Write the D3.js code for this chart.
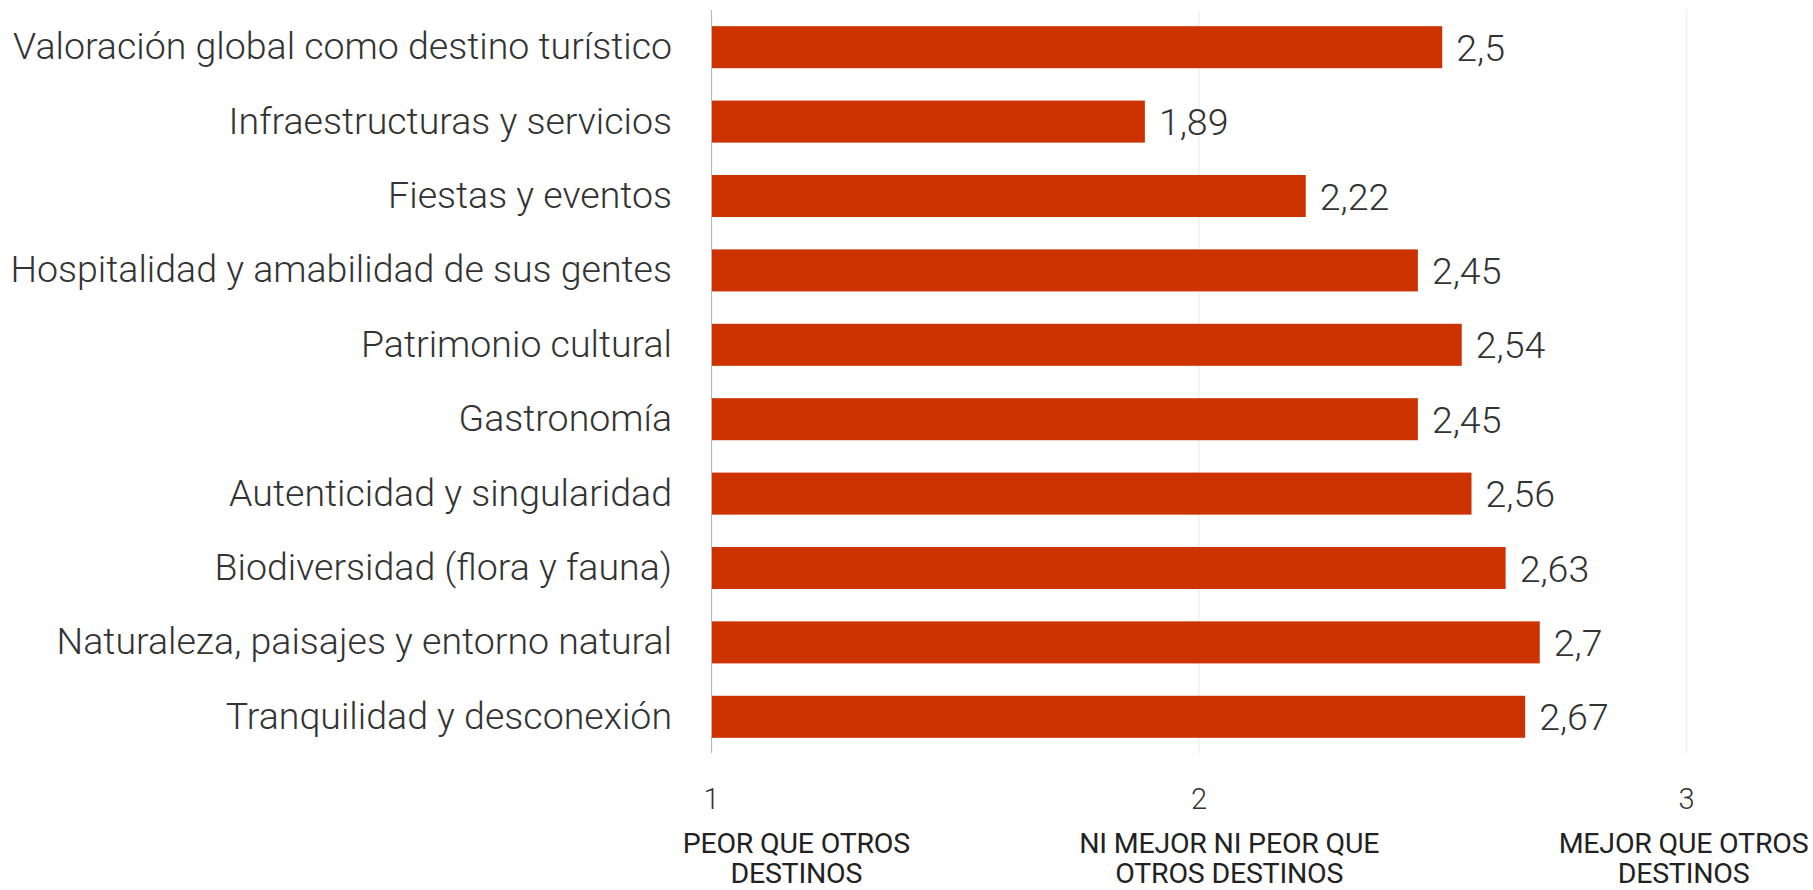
<!DOCTYPE html>
<html>
<head>
<meta charset="utf-8">
<script src="https://cdn.jsdelivr.net/npm/d3@7"></script>
<style>
  html, body { margin: 0; padding: 0; background: #fff; }
  svg { display: block; }
</style>
</head>
<body>
<svg id="chart" width="1813" height="890"></svg>
<script>
// Valoración del destino frente a otros destinos (escala 1–3)
const categories = [
  "Valoración global como destino turístico",
  "Infraestructuras y servicios",
  "Fiestas y eventos",
  "Hospitalidad y amabilidad de sus gentes",
  "Patrimonio cultural",
  "Gastronomía",
  "Autenticidad y singularidad",
  "Biodiversidad (flora y fauna)",
  "Naturaleza, paisajes y entorno natural",
  "Tranquilidad y desconexión"
];
const values = [2.5, 1.89, 2.22, 2.45, 2.54, 2.45, 2.56, 2.63, 2.7, 2.67];
const tickValues = [1, 2, 3];
const scaleLabels = [
  ["PEOR QUE OTROS", "DESTINOS"],
  ["NI MEJOR NI PEOR QUE", "OTROS DESTINOS"],
  ["MEJOR QUE OTROS", "DESTINOS"]
];
// horizontal centre of each descriptor block, in scale units
const scaleLabelCenters = [1.175, 2.063, 2.995];

const svg = d3.select("#chart");
const plot = { left: 711, right: 1686, top: 10, bottom: 754 };

const x = d3.scaleLinear().domain([1, 3]).range([plot.left, plot.right]);
const y = d3.scaleBand()
  .domain(categories)
  .range([plot.top, plot.bottom])
  .paddingInner(0.435)
  .paddingOuter(0.2175);

const fmt = v => String(v).replace(".", ",");

// vertical gridlines
svg.append("g")
  .selectAll("line")
  .data(tickValues)
  .join("line")
  .attr("x1", d => x(d) + 0.5)
  .attr("x2", d => x(d) + 0.5)
  .attr("y1", plot.top)
  .attr("y2", plot.bottom - 1)
  .attr("stroke", d => d === 1 ? "#b8b8b8" : "#ececec")
  .attr("stroke-width", 1.2);

// bars
svg.append("g")
  .selectAll("rect")
  .data(values)
  .join("rect")
  .attr("x", x(1) + 1)
  .attr("y", (d, i) => y(categories[i]))
  .attr("width", d => x(d) - x(1) - 1)
  .attr("height", y.bandwidth())
  .attr("fill", "#cc3300");

// value labels
svg.append("g")
  .selectAll("text")
  .data(values)
  .join("text")
  .attr("x", d => x(d) + 14)
  .attr("y", (d, i) => y(categories[i]) + y.bandwidth() / 2)
  .attr("dy", "0.36em")
  .attr("font-family", "Roboto")
  .attr("font-weight", 300)
  .attr("font-size", 37.5)
  .attr("fill", "#333")
  .text(fmt);

// category axis
const yAxis = d3.axisLeft(y).tickSize(0).tickPadding(39);
svg.append("g")
  .attr("transform", `translate(${plot.left},0)`)
  .call(yAxis)
  .call(g => g.select(".domain").remove())
  .call(g => g.selectAll("text")
    .attr("font-family", "Roboto")
    .attr("font-weight", 300)
    .attr("font-size", 37.5)
    .attr("fill", "#333"));

// numeric axis
const xAxis = d3.axisBottom(x).tickValues(tickValues).tickSize(0).tickPadding(0).tickFormat(d3.format("d"));
svg.append("g")
  .attr("transform", `translate(0,${plot.bottom})`)
  .call(xAxis)
  .call(g => g.select(".domain").remove())
  .call(g => g.selectAll("text")
    .attr("y", 55)
    .attr("dy", 0)
    .attr("font-family", "Roboto")
    .attr("font-weight", 300)
    .attr("font-size", 29)
    .attr("fill", "#333"));

// scale descriptors under the numeric axis
const desc = svg.append("g")
  .selectAll("text")
  .data(scaleLabels)
  .join("text")
  .attr("x", (d, i) => x(scaleLabelCenters[i]))
  .attr("y", 853)
  .attr("text-anchor", "middle")
  .attr("font-family", "Roboto")
  .attr("font-weight", 400)
  .attr("font-size", 28.5)
  .attr("letter-spacing", "-0.2")
  .attr("fill", "#222");
desc.selectAll("tspan")
  .data(d => d)
  .join("tspan")
  .attr("x", function() { return d3.select(this.parentNode).attr("x"); })
  .attr("dy", (d, i) => i === 0 ? 0 : 30)
  .text(d => d);
</script>
</body>
</html>
